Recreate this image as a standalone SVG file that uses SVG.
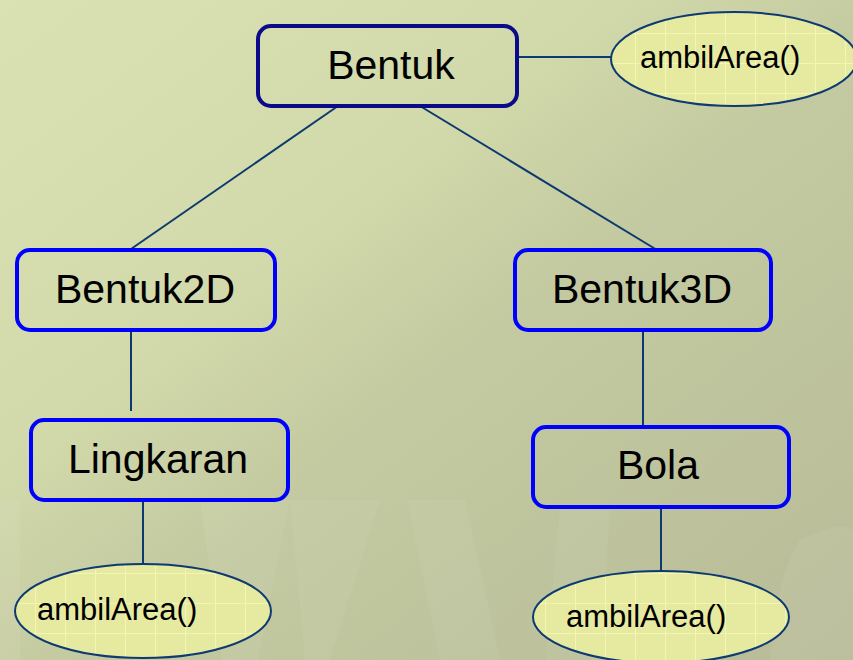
<svg xmlns="http://www.w3.org/2000/svg" width="853" height="660" viewBox="0 0 853 660">
  <defs>
    <linearGradient id="bg" x1="0" y1="0" x2="1" y2="1">
      <stop offset="0" stop-color="#dae1b2"/>
      <stop offset="0.35" stop-color="#d2d9aa"/>
      <stop offset="0.55" stop-color="#c3c9a0"/>
      <stop offset="1" stop-color="#b7bc98"/>
    </linearGradient>
    <pattern id="grid" width="30" height="30" patternUnits="userSpaceOnUse" x="5" y="3">
      <rect width="30" height="30" fill="#e6e9a0"/>
      <path d="M0 0.5H30M0.5 0V30" stroke="#f3f5b0" stroke-width="1.2"/>
    </pattern>
    <style>
      .box { fill: none; stroke: #0000ff; stroke-width: 4; }
      .top { fill: none; stroke: #0a0a8a; stroke-width: 4; }
      .oval { fill: url(#grid); stroke: #0d3a73; stroke-width: 2; }
      .lbl { font-family: "Liberation Sans", Arial, sans-serif; font-size: 41px; fill: #000; text-anchor: middle; }
      .olbl { font-family: "Liberation Sans", Arial, sans-serif; font-size: 31px; fill: #000; }
      .conn line { stroke: #0d3a6e; stroke-width: 2; }
      .wm { fill: #ffffff; opacity: 0.06; }
    </style>
  </defs>
  <rect width="853" height="660" fill="url(#bg)"/>
  <g id="watermark">
    <polygon class="wm" points="0,500 20,500 20,660 0,660"/>
    <polygon class="wm" points="200,500 290,500 258,660 222,660"/>
    <polygon class="wm" points="290,500 380,500 330,660 305,660"/>
    <polygon class="wm" points="407,500 465,500 500,660 440,660"/>
    <polygon class="wm" points="560,510 610,510 600,660 545,660"/>
    <path class="wm" d="M800,540 Q840,520 853,530 L853,660 L770,660 Q775,580 800,540 Z"/>
  </g>
  <g id="connectors" class="conn">
    <line x1="517" y1="57" x2="611" y2="57"/>
    <line x1="338" y1="106" x2="131" y2="249"/>
    <line x1="420" y1="106" x2="657" y2="250"/>
    <line x1="131" y1="331" x2="131" y2="411"/>
    <line x1="143" y1="500" x2="143" y2="564"/>
    <line x1="643" y1="331" x2="643" y2="426"/>
    <line x1="661" y1="507" x2="661" y2="571"/>
  </g>
  <g id="bentuk">
    <rect class="top" x="258" y="26" width="259" height="80" rx="13"/>
    <text class="lbl" x="391" y="79">Bentuk</text>
  </g>
  <g id="ambilArea-top">
    <ellipse class="oval" cx="734" cy="59" rx="123" ry="47"/>
    <text class="olbl" x="640" y="68">ambilArea()</text>
  </g>
  <g id="bentuk2d">
    <rect class="box" x="17" y="250" width="258" height="80" rx="13"/>
    <text class="lbl" x="145" y="303">Bentuk2D</text>
  </g>
  <g id="bentuk3d">
    <rect class="box" x="515" y="250" width="256" height="80" rx="13"/>
    <text class="lbl" x="642" y="303">Bentuk3D</text>
  </g>
  <g id="lingkaran">
    <rect class="box" x="31" y="420" width="257" height="80" rx="13"/>
    <text class="lbl" x="158" y="473">Lingkaran</text>
  </g>
  <g id="bola">
    <rect class="box" x="533" y="427" width="256" height="80" rx="13"/>
    <text class="lbl" x="658" y="479">Bola</text>
  </g>
  <g id="ambilArea-left">
    <ellipse class="oval" cx="143" cy="611" rx="128" ry="47"/>
    <text class="olbl" x="37" y="620">ambilArea()</text>
  </g>
  <g id="ambilArea-right">
    <ellipse class="oval" cx="661" cy="617" rx="128" ry="46"/>
    <text class="olbl" x="566" y="627">ambilArea()</text>
  </g>
</svg>
